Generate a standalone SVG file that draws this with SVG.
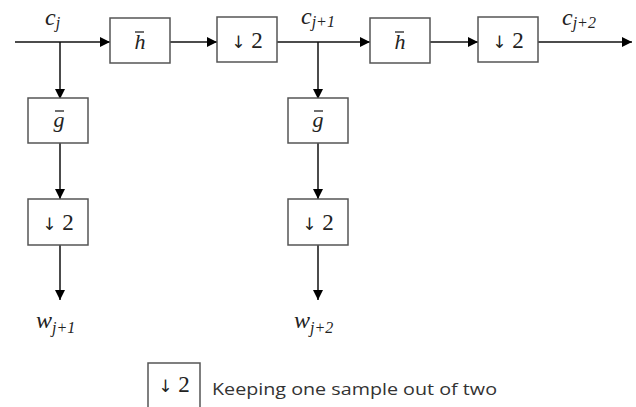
<svg xmlns="http://www.w3.org/2000/svg" width="636" height="407" viewBox="0 0 636 407">
<defs>
<marker id="ah" viewBox="0 0 10 10" refX="10" refY="5" markerWidth="10" markerHeight="10" markerUnits="userSpaceOnUse" orient="auto">
<path d="M0,0 L10,5 L0,10 z" fill="#000"/>
</marker>
<style>
.box{fill:#fff;stroke:#555;stroke-width:1.5}
.ln{stroke:#111;stroke-width:1.5;fill:none}
.m{font-family:"Liberation Serif","DejaVu Serif",serif;font-style:italic;fill:#222}
.d{font-family:"Liberation Serif","DejaVu Serif",serif;fill:#222;font-size:23px}
.ar{font-family:"DejaVu Sans",sans-serif;font-size:17px}
.t{font-family:"Open Sans","Noto Sans",sans-serif;fill:#333;font-size:16.5px}
</style>
</defs>
<rect width="636" height="407" fill="#fff"/>
<g id="connectors">
<line class="ln" x1="15" y1="42" x2="110" y2="42" marker-end="url(#ah)"/>
<line class="ln" x1="170" y1="42" x2="217" y2="42" marker-end="url(#ah)"/>
<line class="ln" x1="277" y1="42" x2="370" y2="42" marker-end="url(#ah)"/>
<line class="ln" x1="430" y1="42" x2="478" y2="42" marker-end="url(#ah)"/>
<line class="ln" x1="538" y1="42" x2="632" y2="42" marker-end="url(#ah)"/>
<line class="ln" x1="60" y1="42" x2="60" y2="99" marker-end="url(#ah)"/>
<line class="ln" x1="60" y1="143" x2="60" y2="199" marker-end="url(#ah)"/>
<line class="ln" x1="60" y1="245" x2="60" y2="300" marker-end="url(#ah)"/>
<line class="ln" x1="318" y1="42" x2="318" y2="99" marker-end="url(#ah)"/>
<line class="ln" x1="318" y1="143" x2="318" y2="199" marker-end="url(#ah)"/>
<line class="ln" x1="318" y1="245" x2="318" y2="300" marker-end="url(#ah)"/>
</g>
<g id="h1"><rect class="box" x="110" y="18" width="60" height="45"/><text class="m" x="140" y="49" font-size="22" text-anchor="middle">h</text><line x1="135" y1="32" x2="144" y2="32" stroke="#222" stroke-width="1.3"/></g>
<g id="d1"><rect class="box" x="217" y="17" width="60" height="45"/><text class="d" x="247" y="48" text-anchor="middle"><tspan class="ar">↓</tspan> 2</text></g>
<g id="h2"><rect class="box" x="370" y="18" width="60" height="45"/><text class="m" x="400" y="49" font-size="22" text-anchor="middle">h</text><line x1="395" y1="32" x2="404" y2="32" stroke="#222" stroke-width="1.3"/></g>
<g id="d2"><rect class="box" x="478" y="17" width="60" height="45"/><text class="d" x="508" y="48" text-anchor="middle"><tspan class="ar">↓</tspan> 2</text></g>
<g id="g1"><rect class="box" x="28" y="98" width="60" height="45"/><text class="m" x="59" y="127" font-size="22" text-anchor="middle">g</text><line x1="55" y1="111" x2="64" y2="111" stroke="#222" stroke-width="1.3"/></g>
<g id="d3"><rect class="box" x="28" y="199" width="60" height="46"/><text class="d" x="58" y="230" text-anchor="middle"><tspan class="ar">↓</tspan> 2</text></g>
<g id="g2"><rect class="box" x="288" y="98" width="60" height="45"/><text class="m" x="318" y="127" font-size="22" text-anchor="middle">g</text><line x1="314" y1="111" x2="323" y2="111" stroke="#222" stroke-width="1.3"/></g>
<g id="d4"><rect class="box" x="288" y="199" width="60" height="46"/><text class="d" x="318" y="230" text-anchor="middle"><tspan class="ar">↓</tspan> 2</text></g>
<g id="labels">
<text class="m" x="45" y="25" font-size="24">c<tspan font-size="16" dy="3">j</tspan></text>
<text class="m" x="301" y="24" font-size="24">c<tspan font-size="16" dy="3">j+1</tspan></text>
<text class="m" x="562" y="25" font-size="24">c<tspan font-size="16" dy="3">j+2</tspan></text>
<text class="m" x="36" y="328" font-size="24">w<tspan font-size="16" dy="5">j+1</tspan></text>
<text class="m" x="294" y="328" font-size="24">w<tspan font-size="16" dy="5">j+2</tspan></text>
</g>
<g id="legend">
<rect class="box" x="148" y="363" width="52" height="60"/>
<text class="d" x="174" y="392" text-anchor="middle"><tspan class="ar">↓</tspan> 2</text>
<text class="t" x="212" y="395" textLength="285" lengthAdjust="spacingAndGlyphs">Keeping one sample out of two</text>
</g>
</svg>
